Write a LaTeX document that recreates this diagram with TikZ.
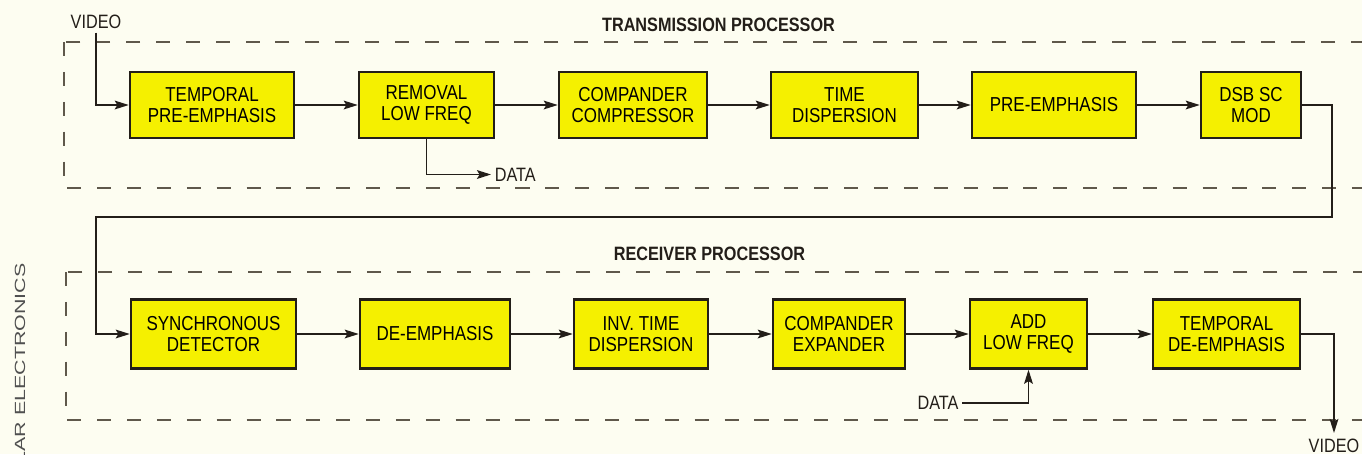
\documentclass[tikz,border=0pt]{standalone}
\usepackage{fontspec}
\setmainfont{Liberation Sans}[FakeStretch=0.84]
\newfontfamily\tagfont{Liberation Sans}[FakeStretch=1.45]
\usetikzlibrary{arrows.meta}

\definecolor{scanpaper}{RGB}{253, 253, 241}
\definecolor{scanyellow}{RGB}{245, 240, 0}
\definecolor{scanink}{RGB}{35, 30, 25}
\definecolor{scangray}{RGB}{95, 88, 75}
\definecolor{scantag}{RGB}{80, 80, 80}

\begin{document}
\begin{tikzpicture}[
    blk/.style={draw=scanink, line width=1.4pt, fill=scanyellow, inner sep=0pt, align=center, font=\fontsize{11.5}{12}\selectfont},
    sig/.style={draw=scanink, line width=0.8pt, -{Stealth[length=8pt, width=5pt, inset=1.5pt]}},
    frame/.style={draw=scangray, line width=0.7pt, dash pattern=on 8pt off 9pt},
    lbl/.style={font=\fontsize{11}{12}\selectfont, text=scanink, inner sep=2pt},
    ttl/.style={font=\fontsize{11}{12}\selectfont\bfseries, text=scanink},
  ]
    \fill[scanpaper] (0,0) rectangle (27.24,-9.08);
    \useasboundingbox (0,0) rectangle (27.24,-9.08);

    \def\rowT{-2.10}
    \def\rowR{-6.68}

    % === Transmission processor ===
    \draw[frame] (1.28,-0.84) rectangle (27.8,-3.76);
    \node[ttl] (ttlT) at (14.37,-0.50) {TRANSMISSION PROCESSOR};

    \foreach \n/\x/\w/\txt in {tx1/4.24/3.28/{TEMPORAL\\PRE-EMPHASIS},
                               tx2/8.53/2.70/{REMOVAL\\LOW FREQ},
                               tx3/12.66/2.96/{COMPANDER\\COMPRESSOR},
                               tx4/16.89/2.94/{TIME\\DISPERSION},
                               tx5/21.08/3.28/{PRE-EMPHASIS},
                               tx6/25.02/2.00/{DSB SC\\MOD}} {
      \node[blk, minimum width=\w cm, minimum height=1.33cm] (\n) at (\x,\rowT) {\txt};
    }
    \foreach \a/\b in {tx1/tx2, tx2/tx3, tx3/tx4, tx4/tx5, tx5/tx6} {
      \draw[sig] (\a) -- (\b);
    }

    % video in, data out
    \node[lbl] (vin) at (1.92,-0.44) {VIDEO};
    \draw[sig] (vin.south) |- (tx1.west);
    \node[lbl, anchor=west] (dout) at (9.82,-3.49) {DATA};
    \draw[sig] (tx2.south) |- (dout.west);

    % --- link down to the receiver ---
    \coordinate (fbR) at (26.64,-4.34);
    \coordinate (fbL) at (1.92,-4.34);

    % === Receiver processor ===
    \draw[frame] (1.32,-5.44) rectangle (27.8,-8.40);
    \node[ttl] (ttlR) at (14.19,-5.08) {RECEIVER PROCESSOR};

    \foreach \n/\x/\w/\txt in {rx1/4.27/3.30/{SYNCHRONOUS\\DETECTOR},
                               rx2/8.70/3.00/{DE-EMPHASIS},
                               rx3/12.82/2.68/{INV. TIME\\DISPERSION},
                               rx4/16.78/2.64/{COMPANDER\\EXPANDER},
                               rx5/20.57/2.34/{ADD\\LOW FREQ},
                               rx6/24.53/2.94/{TEMPORAL\\DE-EMPHASIS}} {
      \node[blk, minimum width=\w cm, minimum height=1.38cm] (\n) at (\x,\rowR) {\txt};
    }
    \foreach \a/\b in {rx1/rx2, rx2/rx3, rx3/rx4, rx4/rx5, rx5/rx6} {
      \draw[sig] (\a) -- (\b);
    }

    \draw[sig] (tx6.east) -| (fbR) -- (fbL) |- (rx1.west);

    % data in, video out
    \node[lbl] (din) at (18.76,-8.06) {DATA};
    \draw[sig] (din.east) -| (rx5.south);
    \node[lbl, inner ysep=3pt, anchor=north] (vout) at (26.68,-8.66) {VIDEO};
    \draw[sig] (rx6.east) -| (vout.north);

    % page tag on the left edge
    \node[font=\tagfont\fontsize{8.4}{9}\selectfont, text=scantag, rotate=90, anchor=east, inner sep=0pt] (tag) at (0.40,-5.26) {LAR ELECTRONICS};
  \end{tikzpicture}
\end{document}
